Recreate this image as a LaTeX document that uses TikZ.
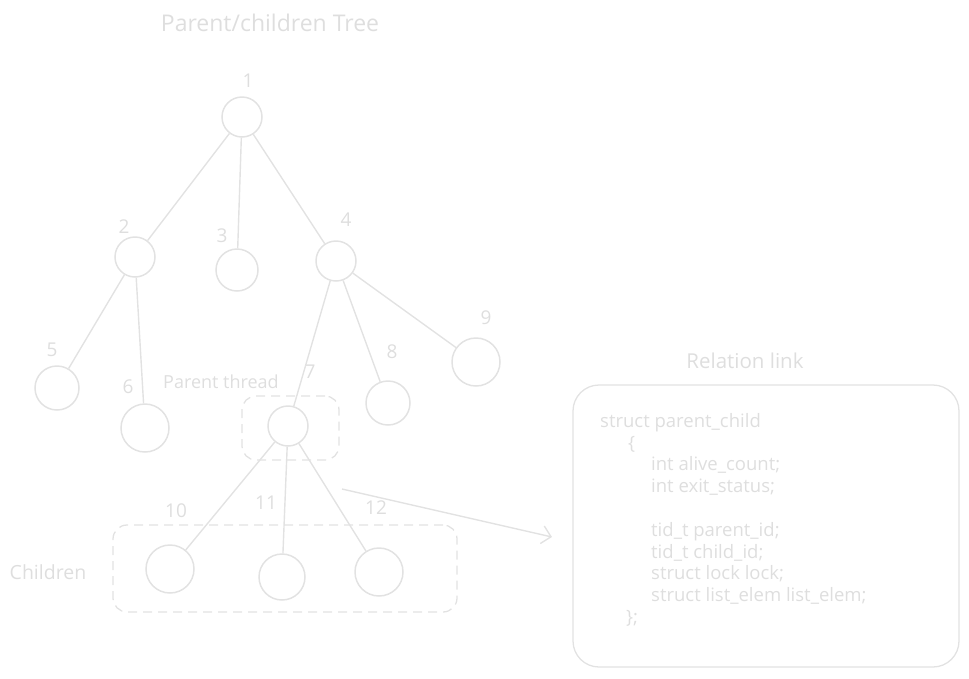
\documentclass[tikz,border=0pt]{standalone}
\usepackage{fontspec}
\setmainfont{Open Sans}
\usetikzlibrary{arrows.meta}

\definecolor{sketch}{RGB}{226,226,226}
\definecolor{sketchtext}{RGB}{222,222,222}

\begin{document}
\begin{tikzpicture}[x=1pt,y=-1pt,>={Straight Barb[length=9pt,width=18pt]},
    every node/.style={text=sketchtext},
    thread/.style={circle,draw=sketch,line width=1.5pt,inner sep=0pt},
    tid/.style={font=\fontsize{19}{22}\selectfont},
    groupbox/.style={draw=sketch,line width=1.3pt,dashed,dash pattern=on 9pt off 6pt,rounded corners=14pt,inner sep=0pt},
    edge/.style={draw=sketch,line width=1.4pt}]
    \useasboundingbox (0,0) rectangle (969,678);

    % titles
    \node[font=\fontsize{23}{26}\selectfont] (title) at (270,23) {Parent/children Tree};
    \node[font=\fontsize{20.5}{24}\selectfont] (reltitle) at (745,361) {Relation link};

    % threads
    \node[thread,minimum size=40pt] (n1) at (242,117) {};
    \node[thread,minimum size=40pt] (n2) at (135,257) {};
    \node[thread,minimum size=42pt] (n3) at (237,270) {};
    \node[thread,minimum size=40pt] (n4) at (336,261) {};
    \node[thread,minimum size=44pt] (n5) at (57,388) {};
    \node[thread,minimum size=48pt] (n6) at (145,428) {};
    \node[thread,minimum size=40pt] (n7) at (288,426) {};
    \node[thread,minimum size=44pt] (n8) at (388,403) {};
    \node[thread,minimum size=48pt] (n9) at (476,362) {};
    \node[thread,minimum size=48pt] (n10) at (170,569) {};
    \node[thread,minimum size=46pt] (n11) at (282,577) {};
    \node[thread,minimum size=48pt] (n12) at (379,572) {};

    % thread ids
    \node[tid] (l1) at (248,81) {1};
    \node[tid] (l2) at (124,227) {2};
    \node[tid] (l3) at (222,236) {3};
    \node[tid] (l4) at (346,220) {4};
    \node[tid] (l5) at (52,350) {5};
    \node[tid] (l6) at (128,387) {6};
    \node[tid] (l7) at (310,372) {7};
    \node[tid] (l8) at (392,352) {8};
    \node[tid] (l9) at (486,318) {9};
    \node[tid] (l10) at (176,511) {10};
    \node[tid] (l11) at (266,503) {11};
    \node[tid] (l12) at (376,508) {12};

    % parent/child links
    \draw[edge] (n1) -- (n2);
    \draw[edge] (n1) -- (n3);
    \draw[edge] (n1) -- (n4);
    \draw[edge] (n2) -- (n5);
    \draw[edge] (n2) -- (n6);
    \draw[edge] (n4) -- (n7);
    \draw[edge] (n4) -- (n8);
    \draw[edge] (n4) -- (n9);
    \draw[edge] (n7) -- (n10);
    \draw[edge] (n7) -- (n11);
    \draw[edge] (n7) -- (n12);

    % groups
    \node[groupbox,minimum width=97pt,minimum height=64pt] (parentbox) at (290.5,428) {};
    \node[font=\fontsize{18}{21}\selectfont] (parentlbl) at (221,382) {Parent thread};
    \node[groupbox,minimum width=344pt,minimum height=87pt] (childbox) at (285,568.5) {};
    \node[font=\fontsize{19.5}{23}\selectfont] (childlbl) at (48,572) {Children};

    % relation struct
    \node[draw=sketch,line width=1.3pt,rounded corners=26pt,minimum width=386pt,minimum height=282pt] (relbox) at (766,526) {};
    \node[anchor=north west,align=left,inner sep=0pt,font=\fontsize{18.5}{21.8}\selectfont] (code) at (600,413) {%
        struct parent\_child\\
        \hspace*{28pt}\{\\
        \hspace*{51pt}int alive\_count;\\
        \hspace*{51pt}int exit\_status;\\[21.8pt]
        \hspace*{51pt}tid\_t parent\_id;\\
        \hspace*{51pt}tid\_t child\_id;\\
        \hspace*{51pt}struct lock lock;\\
        \hspace*{51pt}struct list\_elem list\_elem;\\
        \hspace*{26pt}\};};

    \coordinate (linkfrom) at (342,489);
    \coordinate (linkto) at (552,537);
    \draw[edge,->] (linkfrom) -- (linkto);
\end{tikzpicture}
\end{document}
